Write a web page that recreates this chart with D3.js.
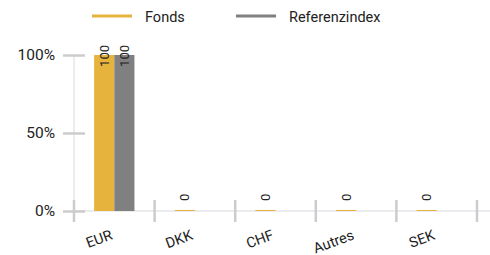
<!DOCTYPE html>
<html><head><meta charset="utf-8">
<script src="https://cdn.jsdelivr.net/npm/d3@7"></script>
<style>body{margin:0;background:#fff}svg{display:block;font-family:Roboto,"Noto Sans",sans-serif}</style>
</head><body><svg id="c" width="490" height="255"></svg>
<script>
const categories = ["EUR","DKK","CHF","Autres","SEK"];
const fonds = [100,0,0,0,0];
const referenz = [100,null,null,null,null];
const seriesNames = ["Fonds","Referenzindex"];
const colors = ["#E6B43C","#808080"];
const yTicks = [0,50,100];

const svg = d3.select("#c");
const m = {l:74, r:477, t:55, b:211};
const x = d3.scaleBand().domain(categories).range([m.l,m.r]).paddingInner(0).paddingOuter(0);
const xs = d3.scaleBand().domain(seriesNames).range([0,x.bandwidth()]).paddingInner(0).paddingOuter(1);
const y = d3.scaleLinear().domain([0,100]).range([m.b,m.t]);

// legend
const lg = svg.append("g");
[[92,145],[236,289]].forEach((p,i)=>{
  lg.append("line").attr("x1",p[0]).attr("x2",p[0]+40).attr("y1",16).attr("y2",16)
    .attr("stroke",colors[i]).attr("stroke-width",3);
  lg.append("text").attr("x",p[1]).attr("y",22).attr("font-size",14.5).attr("fill","#222").text(seriesNames[i]);
});

// axis lines
svg.append("line").attr("x1",m.l).attr("x2",490).attr("y1",m.b).attr("y2",m.b).attr("stroke","#ebebf0").attr("stroke-width",2);
svg.append("line").attr("x1",m.l).attr("x2",m.l).attr("y1",m.t).attr("y2",m.b+11).attr("stroke","#ebebf0").attr("stroke-width",2);

// y ticks
const ya = svg.append("g").attr("transform",`translate(${m.l},0)`)
  .call(d3.axisLeft(y).tickValues(yTicks).tickFormat(d=>d+"%").tickSize(0).tickPadding(19));
ya.select(".domain").remove();
ya.selectAll("text").attr("font-size",15.5).attr("fill","#222").attr("font-family","Roboto,sans-serif");
ya.selectAll(".tick").append("line").attr("x1",-11).attr("x2",11).attr("stroke","#cccccc").attr("stroke-width",2.5);

// x ticks at boundaries
const bounds = categories.map(c=>x(c)).concat([m.r]);
svg.selectAll(".xt").data(bounds).enter().append("line")
  .attr("x1",d=>d).attr("x2",d=>d).attr("y1",m.b-11).attr("y2",m.b+11)
  .attr("stroke","#cccccc").attr("stroke-width",2.5);

// x labels
svg.selectAll(".xl").data(categories).enter().append("text")
  .attr("text-anchor","end").attr("font-size",14.5).attr("fill","#222")
  .attr("transform",c=>`translate(${x(c)+x.bandwidth()/2-1},${m.b+28}) rotate(-20)`)
  .text(c=>c);

// bars
const series = [fonds, referenz];
series.forEach((vals,si)=>{
  const g = svg.append("g");
  categories.forEach((c,i)=>{
    const v = vals[i];
    if (v===null) return;
    const bx = x(c)+xs(seriesNames[si]);
    const h = Math.max(1, m.b - y(v));
    g.append("rect").attr("x",bx).attr("y",m.b-h).attr("width",xs.bandwidth()).attr("height",h).attr("fill",colors[si]);
    const t = g.append("text").attr("font-size",13).attr("fill","#222").text(v);
    const len = t.node().getComputedTextLength();
    const ay = Math.max(y(v)-10, 45+len);
    t.attr("transform",`translate(${bx+xs.bandwidth()/2+4.5},${ay}) rotate(-90)`);
  });
});
</script></body></html>
